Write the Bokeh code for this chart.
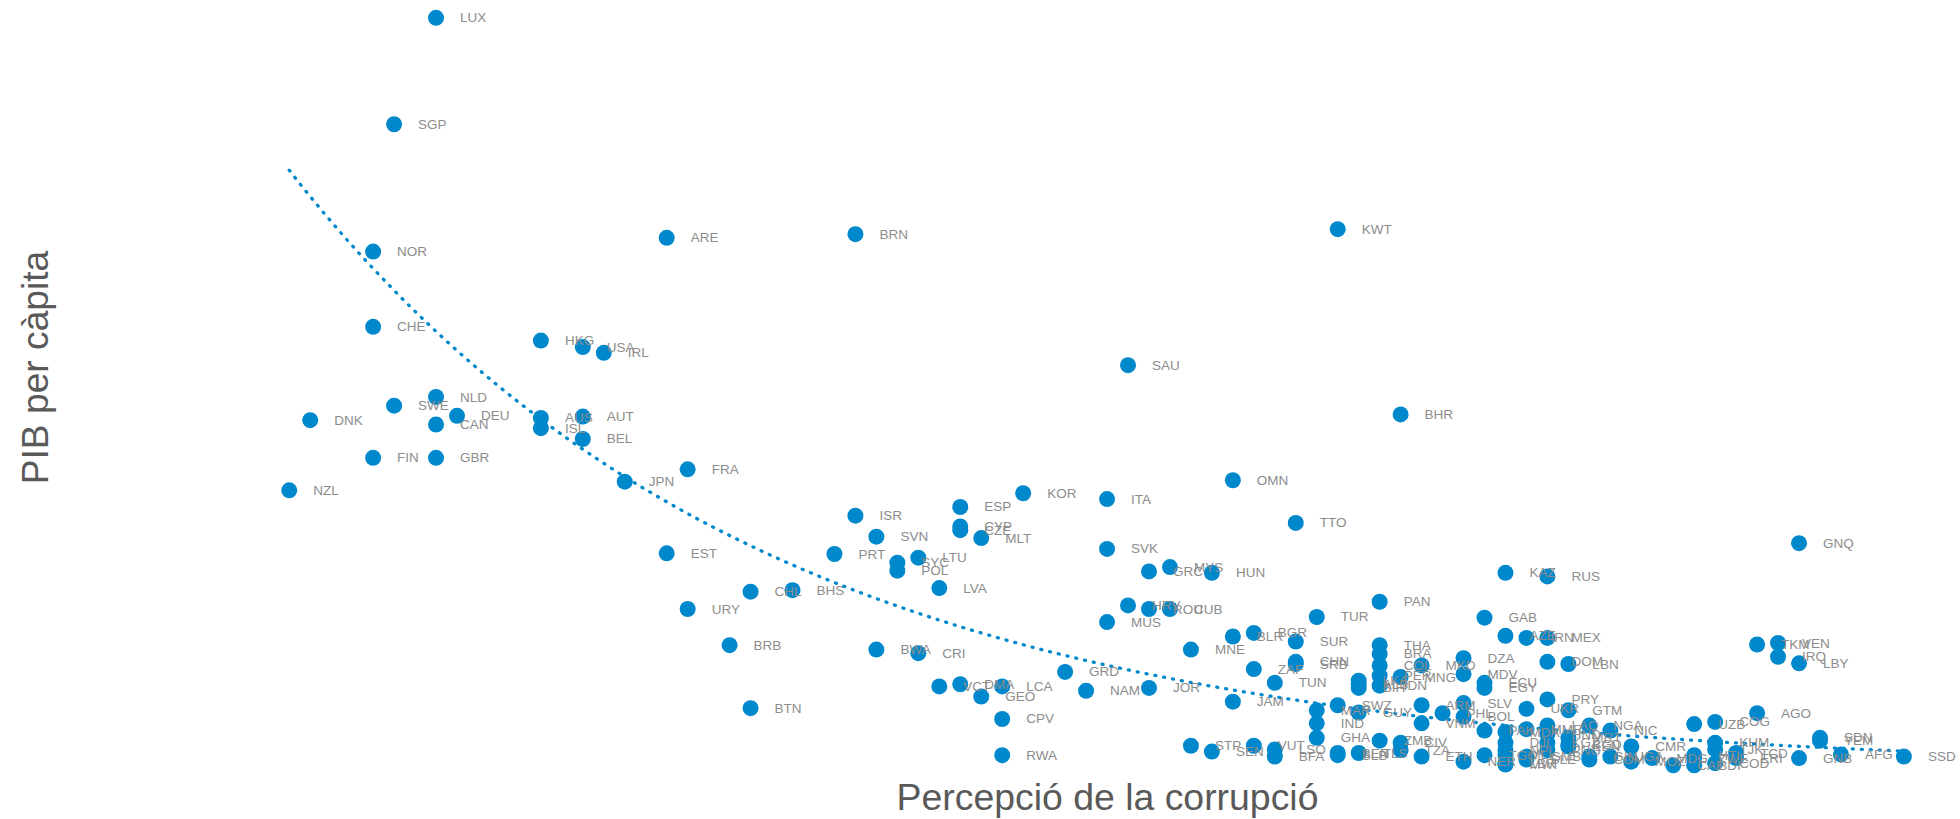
import numpy as np
from bokeh.plotting import figure
from bokeh.models import ColumnDataSource, Range1d, Label
from bokeh.embed import file_html
from bokeh.resources import INLINE
from bokeh.core.properties import value

# ---- data: ISO code, corruption perception index (CPI 2017), GDP per capita (thousand intl. $)
iso = ["LUX","SGP","NOR","CHE","FIN","SWE","NLD","CAN","GBR","DNK","NZL","DEU","HKG","AUS","ISL",
       "USA","AUT","BEL","IRL","JPN","ARE","EST","FRA","URY","BRB","BTN","CHL","BHS","PRT","BRN",
       "ISR","BWA","SVN","POL","SYC","LTU","CRI","LVA","VCT","ESP","CYP","CZE","DMA","MLT","GEO",
       "CPV","RWA","LCA","KOR","GRD","NAM","ITA","MUS","SVK","HRV","SAU","GRC","JOR","ROU","CUB",
       "MYS","MNE","STP","HUN","SEN","BLR","JAM","OMN","BGR","ZAF","VUT","BFA","LSO","TUN","CHN",
       "SRB","TTO","SUR","GHA","IND","MAR","TUR","SWZ","BEN","KWT","SLB","LKA","ALB","BIH","GUY",
       "TLS","THA","BRA","COL","PER","IDN","PAN","ZMB","BHR","MNG","CIV","TZA","ARM","ETH","MKD",
       "VNM","PHL","DZA","MDV","SLV","BOL","NER","GAB","ECU","EGY","PAK","TGO","AZE","KAZ","MDA",
       "DJI","NPL","MLI","LBR","MWI","IRN","UKR","MMR","GMB","SLE","MEX","RUS","DOM","PRY","LAO",
       "HND","KGZ","PNG","LBN","GTM","MRT","BGD","KEN","NGA","GIN","COM","NIC","UGA","CMR","MOZ",
       "MDG","CAF","BDI","HTI","UZB","ZWE","KHM","COG","COD","TJK","TCD","ERI","AGO","TKM","IRQ",
       "VEN","GNQ","GNB","LBY","SDN","YEM","AFG","SSD"]
cpi = [82,84,85,85,85,84,82,82,82,88,89,81,77,77,77,
       75,75,75,74,73,71,71,70,70,68,67,67,65,63,62,
       62,61,61,60,60,59,59,58,58,57,57,57,57,56,56,
       55,55,55,54,52,51,50,50,50,49,49,48,48,48,47,
       47,46,46,45,45,44,44,44,43,43,43,42,42,42,41,
       41,41,41,40,40,40,40,39,39,39,39,38,38,38,38,
       38,37,37,37,37,37,37,37,36,36,36,36,35,35,35,
       35,34,33,33,33,33,33,32,32,32,32,32,31,31,31,
       31,31,31,31,31,30,30,30,30,30,29,29,29,29,29,
       29,29,29,28,28,28,28,28,27,27,27,26,26,25,25,
       24,23,22,22,22,22,21,21,21,21,20,20,19,19,18,
       18,17,17,17,16,16,15,12]
gdp = [104.0,89.3,71.7,61.3,43.2,50.4,51.6,47.8,43.2,48.4,38.7,49.0,59.4,48.7,47.3,
       58.5,48.9,45.8,57.7,39.9,73.6,30.0,41.6,22.3,17.3,8.6,24.7,24.9,29.9,74.1,
       35.2,16.7,32.3,27.6,28.7,29.4,16.2,25.2,11.6,36.4,33.7,33.2,11.9,32.1,10.2,
       7.1,2.1,11.6,38.3,13.6,11.0,37.5,20.5,30.6,22.8,56.0,27.5,11.4,22.3,22.3,
       28.1,16.7,3.4,27.3,2.6,18.5,9.5,40.1,19.0,14.0,3.4,1.9,2.9,12.1,15.0,
       14.7,34.2,17.8,4.5,6.5,8.3,21.2,9.0,2.4,74.8,2.1,12.4,11.9,11.4,8.0,
       2.4,17.3,16.1,14.5,13.1,11.7,23.3,4.1,49.2,12.9,3.8,2.8,9.0,1.9,14.5,
       6.5,7.9,15.5,13.3,9.3,7.4,1.2,21.1,12.1,11.4,5.5,2.1,18.6,27.3,5.3,
       3.8,2.8,2.2,1.0,0.8,18.3,8.5,5.7,1.9,1.5,18.3,26.8,15.0,9.8,6.2,
       5.0,3.8,2.8,14.7,8.3,4.5,3.6,3.3,6.2,1.9,1.5,5.5,1.9,3.3,1.2,
       1.7,0.7,0.7,2.1,6.4,1.7,3.8,6.7,1.0,2.9,2.4,1.7,7.9,17.4,15.7,
       17.6,31.4,1.7,14.8,4.5,4.1,2.2,1.9]

# exponential trend line shown in the chart: gdp = TREND_A * exp(TREND_B * cpi)
TREND_A = 1.5565
TREND_B = 0.04467
TREND_CPI = [89, 12]

x_title = "Percepció de la corrupció"
y_title = "PIB per càpita"

BLUE = "#0088cc"
W, H = 1960, 819

src = ColumnDataSource(dict(x=cpi, y=gdp, label=iso))

p = figure(width=W, height=H, output_backend="svg", toolbar_location=None,
           x_axis_location=None, y_axis_location=None,
           x_range=Range1d(102.77, 9.30), y_range=Range1d(-6.79, 106.40),
           min_border=0, outline_line_color=None, background_fill_color="white",
           border_fill_color="white")
p.grid.visible = False

tx = np.linspace(TREND_CPI[0], TREND_CPI[1], 300)
ty = TREND_A * np.exp(TREND_B * tx)
p.line(tx, ty, line_color=BLUE, line_width=3.3, line_dash="1 8", line_cap="round")

p.scatter("x", "y", source=src, size=16, fill_color=BLUE, line_color=None)
p.text("x", "y", text="label", source=src, x_offset=24, text_baseline="middle",
       text_align="left", text_font=value("Liberation Sans"), text_font_size="13.5px",
       text_color="#8c8c8c")

p.add_layout(Label(x=1107, y=H - 796, x_units="screen", y_units="screen", text=x_title,
                   text_align="center", text_baseline="middle", text_font="Liberation Sans",
                   text_font_size="37.4px", text_color="#595959"))
p.add_layout(Label(x=34, y=H - 367, x_units="screen", y_units="screen", text=y_title,
                   angle=np.pi / 2, text_align="center", text_baseline="middle",
                   text_font="Liberation Sans", text_font_size="37.2px", text_color="#595959"))

open("out.html", "w").write(file_html(p, INLINE))
